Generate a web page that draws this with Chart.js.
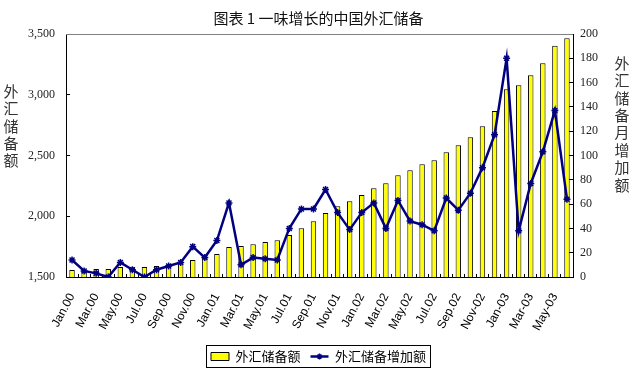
<!DOCTYPE html>
<html><head><meta charset="utf-8">
<script src="https://cdn.jsdelivr.net/npm/chart.js@4"></script>
<style>html,body{margin:0;padding:0;background:#fff}canvas{display:block}</style>
</head><body>
<canvas id="c" width="637" height="373"></canvas>
<script>
const chartTitle = '图表 1 一味增长的中国外汇储备';
const barLabel = '外汇储备额';
const lineLabel = '外汇储备增加额';
const leftTitle = '外汇储备额';
const rightTitle = '外汇储备月增加额';

const categories = [
  'Jan.00','Feb.00','Mar.00','Apr.00','May.00','Jun.00','Jul.00','Aug.00','Sep.00','Oct.00','Nov.00','Dec.00',
  'Jan.01','Feb.01','Mar.01','Apr.01','May.01','Jun.01','Jul.01','Aug.01','Sep.01','Oct.01','Nov.01','Dec.01',
  'Jan.02','Feb.02','Mar.02','Apr.02','May.02','Jun.02','Jul.02','Aug.02','Sep.02','Oct.02','Nov-02','Dec-02',
  'Jan-03','Feb-03','Mar-03','Apr-03','May-03','Jun-03'
];
const reserves = [
  1558,1563,1566,1566,1582,1580,1582,1591,1599,1613,1640,1657,
  1689,1747,1755,1770,1788,1802,1846,1901,1959,2027,2082,2123,
  2175,2231,2272,2338,2379,2428,2461,2527,2585,2651,2741,2867,
  3046,3079,3161,3260,3403,3466
];
const increments = [
  14,5,3,0,12,6,0,6,9,12,25,16,
  30,61,10,16,15,14,40,56,56,72,53,39,
  53,61,40,63,46,43,38,65,55,69,90,117,
  180,38,77,103,137,64
];
const leftMin = 1500, leftMax = 3500, leftStep = 500;
const rightMin = 0, rightMax = 200, rightStep = 20;

const decorPlugin = {
  id: 'decor',
  afterDraw(chart) {
    const ctx = chart.ctx, a = chart.chartArea;
    ctx.save();
    ctx.strokeStyle = '#808080'; ctx.lineWidth = 1;
    ctx.beginPath(); ctx.moveTo(a.left, Math.round(a.top) + 0.5); ctx.lineTo(a.right, Math.round(a.top) + 0.5); ctx.stroke();
    ctx.font = '15px "Noto Sans CJK SC"'; ctx.fillStyle = '#333'; ctx.textAlign = 'center'; ctx.textBaseline = 'middle';
    [...leftTitle].forEach((ch, i) => ctx.fillText(ch, 11, 91 + i * 17.4));
    [...rightTitle].forEach((ch, i) => ctx.fillText(ch, 622, 63 + i * 17.4));
    const lg = chart.legend;
    if (lg && lg.legendHitBoxes && lg.legendHitBoxes.length) {
      const hb = lg.legendHitBoxes;
      let l = Infinity, r = -Infinity, t = Infinity, b = -Infinity;
      hb.forEach(h => { l = Math.min(l, h.left); r = Math.max(r, h.left + h.width); t = Math.min(t, h.top); b = Math.max(b, h.top + h.height); });
      ctx.strokeStyle = '#000'; ctx.lineWidth = 1;
      ctx.strokeRect(Math.round(l - 5) + 0.5, Math.round(t - 5) + 0.5, Math.round(r - l + 9), Math.round(b - t + 9));
      const h2 = hb[1];
      const cx = h2.left + 9, cy = h2.top + h2.height / 2;
      ctx.strokeStyle = '#000080'; ctx.lineWidth = 1.5;
      ctx.beginPath();
      ctx.moveTo(cx - 3, cy); ctx.lineTo(cx + 3, cy);
      ctx.moveTo(cx, cy - 3); ctx.lineTo(cx, cy + 3);
      ctx.moveTo(cx - 2, cy - 2); ctx.lineTo(cx + 2, cy + 2);
      ctx.moveTo(cx - 2, cy + 2); ctx.lineTo(cx + 2, cy - 2);
      ctx.stroke();
    }
    ctx.restore();
  }
};

new Chart(document.getElementById('c'), {
  type: 'bar',
  data: {
    labels: categories,
    datasets: [
      {
        type: 'bar', label: barLabel, data: reserves, yAxisID: 'y', order: 2,
        backgroundColor: '#FFFF00', borderColor: '#000000', borderWidth: 1,
        barPercentage: 0.9, categoryPercentage: 0.5
      },
      {
        type: 'line', label: lineLabel, data: increments, yAxisID: 'y1', order: 1,
        borderColor: '#000080', backgroundColor: '#000080', borderWidth: 2.5,
        pointStyle: 'star', pointRadius: 3.5, pointBorderWidth: 1.5, tension: 0
      }
    ]
  },
  options: {
    responsive: false, animation: false, devicePixelRatio: 1,
    layout: { padding: 0 },
    plugins: {
      tooltip: { enabled: false },
      title: {
        display: true, text: chartTitle, color: '#111',
        font: { family: '"Noto Sans CJK SC"', size: 15, weight: 'normal', lineHeight: 1.2 },
        padding: { top: 9, bottom: 7 }
      },
      legend: {
        position: 'bottom',
        labels: {
          usePointStyle: true, pointStyleWidth: 18, boxHeight: 8, padding: 10, color: '#000',
          font: { family: '"Noto Sans CJK SC"', size: 13 },
          generateLabels: () => [
            { text: barLabel, fillStyle: '#FFFF00', strokeStyle: '#000', lineWidth: 1, pointStyle: 'rect', datasetIndex: 0, hidden: false, fontColor: '#000' },
            { text: lineLabel, fillStyle: '#000080', strokeStyle: '#000080', lineWidth: 2.5, pointStyle: 'line', datasetIndex: 1, hidden: false, fontColor: '#000' }
          ]
        }
      }
    },
    scales: {
      x: {
        grid: { display: true, drawOnChartArea: false, drawTicks: true, tickLength: -3, color: '#000', offset: true },
        border: { display: true, color: '#000', width: 1 },
        ticks: {
          autoSkip: false, minRotation: 62, maxRotation: 62, padding: 17, color: '#000',
          font: { family: '"Liberation Sans"', size: 12 },
          callback: function (v, i) { return i % 2 === 0 ? this.getLabelForValue(v) : ''; }
        },
        afterFit: (s) => { const lh = s.chart.legend ? s.chart.legend.height : 0; s.height = 373 - 277 - lh; }
      },
      y: {
        position: 'left', min: leftMin, max: leftMax,
        grid: { display: true, drawOnChartArea: false, drawTicks: true, tickLength: -4, color: '#000' },
        border: { display: true, color: '#000', width: 1 },
        ticks: { stepSize: leftStep, padding: 15, color: '#222', font: { family: '"Liberation Serif"', size: 12 } },
        afterFit: (s) => { s.width = 66; }
      },
      y1: {
        position: 'right', min: rightMin, max: rightMax,
        grid: { display: true, drawOnChartArea: false, drawTicks: true, tickLength: -4, color: '#000' },
        border: { display: true, color: '#000', width: 1 },
        ticks: { stepSize: rightStep, padding: 11, color: '#222', font: { family: '"Liberation Serif"', size: 12 } },
        afterFit: (s) => { s.width = 64; }
      }
    }
  },
  plugins: [decorPlugin]
});
</script>
</body></html>
